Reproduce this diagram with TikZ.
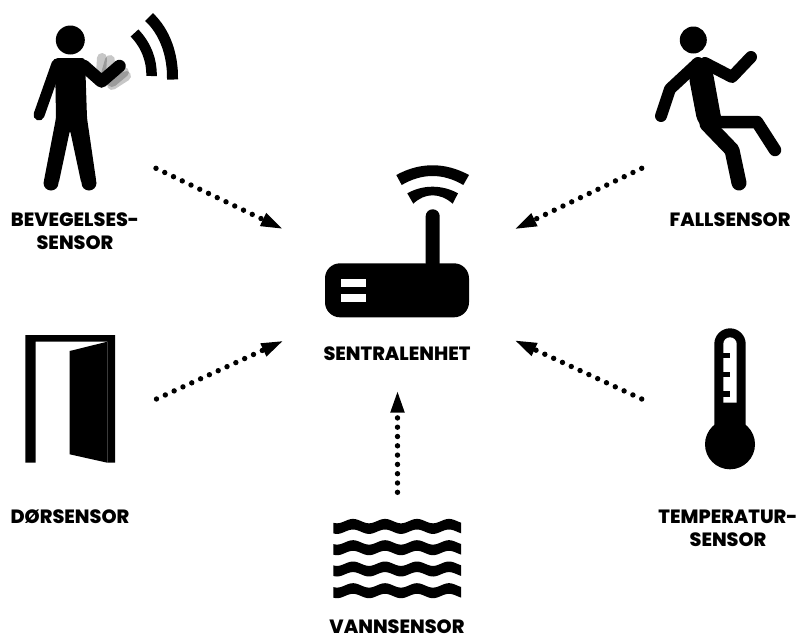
\documentclass[tikz,border=0pt]{standalone}
\usepackage{fontspec}
\usepackage{tikz}
\usetikzlibrary{arrows.meta,positioning}
\setmainfont{Poppins}[BoldFont={Poppins ExtraBold}]
\tikzset{
  sensorlabel/.style={font=\fontsize{19.2}{23}\selectfont\bfseries,align=center,text=black,inner sep=0pt},
  sensorarr/.style={-{Triangle[length=22.7pt,width=12.7pt]},line width=5.4pt,line cap=round,
    dash pattern=on 0pt off 9.7pt,color=black},
  limb/.style={draw=black,line cap=round,line join=round},
  arcband/.style={draw=black,line cap=butt},
  handfan/.style={draw=black,draw opacity=0.22,line width=10pt,line cap=round},
}
\begin{document}
\begin{tikzpicture}[x=1pt,y=-1pt]
  \useasboundingbox (0,0) rectangle (798,640);
  \node[sensorlabel] (bevegelse) at (75,231.5) {BEVEGELSES-\\SENSOR};
  \node[sensorlabel] (fall) at (730,220) {FALLSENSOR};
  \node[sensorlabel] (sentral) at (397,354) {SENTRALENHET};
  \node[sensorlabel] (dor) at (70,517) {DØRSENSOR};
  \node[sensorlabel] (temp) at (728,528.5) {TEMPERATUR-\\SENSOR};
  \node[sensorlabel] (vann) at (397,627) {VANNSENSOR};
  \coordinate (bevfrom) at (156,168.3);
  \coordinate (bevto) at (283.5,229.3);
  \coordinate (fallfrom) at (641.7,168.3);
  \coordinate (fallto) at (514,229.5);
  \coordinate (dorfrom) at (156.5,399);
  \coordinate (dorto) at (284,340.5);
  \coordinate (tempfrom) at (641.7,399);
  \coordinate (tempto) at (514,340);
  \coordinate (vannfrom) at (397.5,492.3);
  \coordinate (vannto) at (397.5,390);
  \draw[sensorarr] (bevfrom) -- (bevto);
  \draw[sensorarr] (fallfrom) -- (fallto);
  \draw[sensorarr] (dorfrom) -- (dorto);
  \draw[sensorarr] (tempfrom) -- (tempto);
  \draw[sensorarr,dash pattern=on 0pt off 9.3pt] (vannfrom) -- (vannto);
  % waving person
  \fill (70.3,40) circle (14.5);
  \fill[rounded corners=3pt] (55,58) -- (85,58) -- (87,118) -- (96.5,183) -- (81.5,184) -- (70,130) -- (58.5,184) -- (43.5,183) -- (56,118) -- cycle;
  \fill (51,183) circle (7.5);
  \fill (89,183) circle (7.5);
  \draw[limb,line width=11pt] (57,64) -- (39,115);
  \draw[handfan] (101,74) -- (102,58);
  \draw[handfan] (106,74) -- (110,60);
  \draw[handfan] (112,82) -- (124,72);
  \draw[handfan] (112,85) -- (126,76);
  \draw[limb,line width=12.5pt] (84,66) -- (101.5,81.5) -- (119.5,66);
  \draw[arcband,line width=11pt] (149,17) .. controls (165,32) and (173,55) .. (172.5,79.5);
  \draw[arcband,line width=10.5pt] (134.5,33) .. controls (146,45) and (152,60) .. (151.5,76);
  % router
  \fill[rounded corners=15pt] (325,263.3) rectangle (469,317.3);
  \fill[white] (341.3,279.3) rectangle (366.3,287.3);
  \fill[white] (341.3,294) rectangle (366.3,301.7);
  \fill[rounded corners=6.9pt] (425.7,270) -- (425.7,209.3) -- (439.7,209.3) -- (439.7,270) -- cycle;
  \fill (396.3,175) .. controls (420,162) and (445,162) .. (469,175) -- (463.3,185) .. controls (443,173) and (422,173) .. (401.7,185) -- cycle;
  \fill (407.3,193.3) .. controls (423,184.5) and (442,184.5) .. (458,193.3) -- (452.7,203.7) .. controls (440,192.5) and (425,192.5) .. (413.3,203.7) -- cycle;
  % falling person
  \fill (693.3,40) circle (13.5);
  \fill[rounded corners=4pt] (692,58) -- (709,60) -- (713,73) -- (721,117) -- (724,128) -- (702,127) -- (697,120) -- (689,78) -- cycle;
  \draw[limb,line width=12pt] (698,63) -- (670,89) -- (661,116);
  \draw[limb,line width=12pt] (705,63) -- (732,77) -- (751,57);
  \draw[limb,line width=12.5pt] (717,122) -- (757,122) -- (775,150);
  \draw[limb,line width=15pt] (707,124) -- (732,150) -- (739,183);
  % door
  \fill (25.3,335) -- (115,335) -- (115,462.7) -- (107.3,462.7) -- (107.3,341.7) -- (35.7,341.7) -- (35.7,462.7) -- (25.3,462.7) -- cycle;
  \fill (69.7,351) -- (107.3,341.7) -- (107.3,462.7) -- (69.7,454.3) -- cycle;
  % thermometer
  \fill (714.3,440) -- (714.3,344) arc[start angle=180,end angle=360,radius=15.7] -- (745.7,440) -- cycle;
  \fill (730,444.3) circle (25);
  \fill[white] (723.3,402.7) -- (723.3,344) arc[start angle=180,end angle=360,radius=6.7] -- (736.7,402.7) -- cycle;
  \foreach \ya/\yb in {352.7/358.3,371.7/377.3,390.7/396.7}
    \fill (723.3,\ya) rectangle (730,\yb);
  % water
  \foreach \yy in {526.4,547.7,569,590.7}
    \fill plot[domain=333.3:461,samples=70] (\x,{\yy-5.3+2.2*cos((\x-337)*11.25)})
      -- plot[domain=461:333.3,samples=70] (\x,{\yy+5.3+2.2*cos((\x-337)*11.25)}) -- cycle;
\end{tikzpicture}
\end{document}
